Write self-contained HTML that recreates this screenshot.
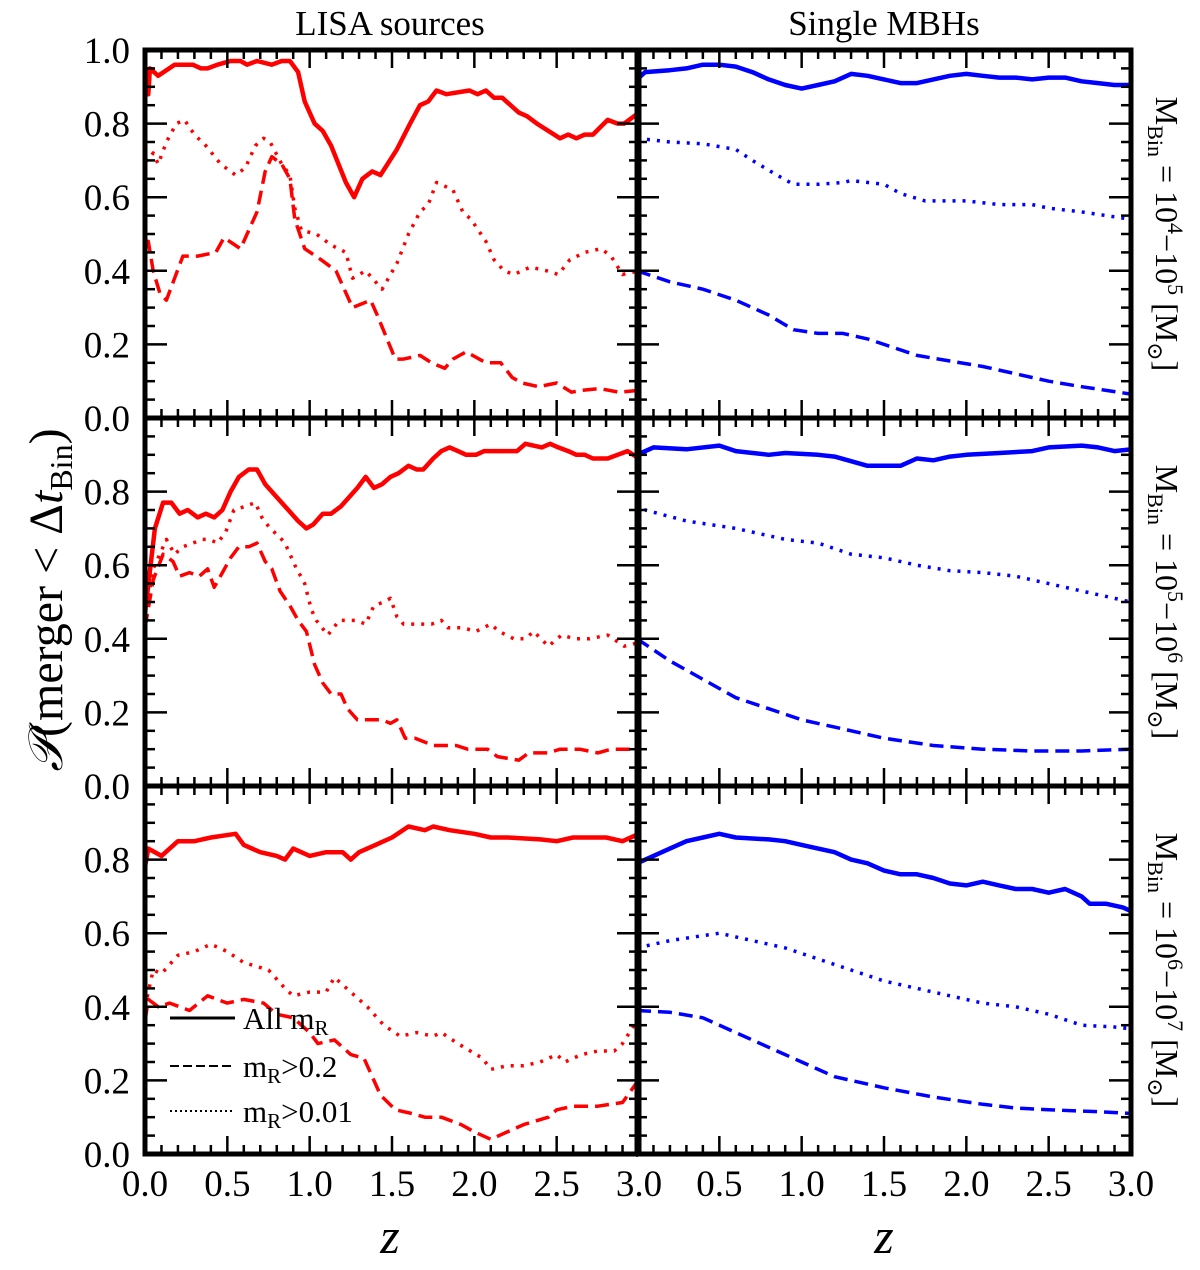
<!DOCTYPE html>
<html><head><meta charset="utf-8">
<style>
body{margin:0;background:#fff;}
svg, svg text, svg tspan{font-family:"Liberation Serif","DejaVu Serif",serif !important;}
svg text{fill:#000;}
</style></head>
<body>
<svg id="chart" width="1200" height="1265" xmlns="http://www.w3.org/2000/svg" font-family="Liberation Serif, DejaVu Serif, serif">
<g id="marks"></g>
<g id="axes"></g>
<text x="390" y="35" font-size="35" text-anchor="middle" font-family="Liberation Serif, serif">LISA sources</text>
<text x="884" y="35" font-size="35" text-anchor="middle" font-family="Liberation Serif, serif">Single MBHs</text>
<text transform="translate(62,600) rotate(-90)" font-size="48" text-anchor="middle" font-family="Liberation Serif, serif"><tspan font-style="italic">𝒫</tspan>(merger &lt; Δ<tspan font-style="italic">t</tspan><tspan font-size="32" dy="10">Bin</tspan><tspan dy="-10">)</tspan></text>
<text x="390" y="1253" font-size="50" font-style="italic" text-anchor="middle" font-family="Liberation Serif, serif">z</text>
<text x="884" y="1253" font-size="50" font-style="italic" text-anchor="middle" font-family="Liberation Serif, serif">z</text>
<text transform="translate(1156,234) rotate(90)" font-size="32" text-anchor="middle" font-family="Liberation Serif, serif">M<tspan font-size="22" dy="8">Bin</tspan><tspan dy="-8"> = 10</tspan><tspan font-size="22" dy="-12">4</tspan><tspan dy="12">−10</tspan><tspan font-size="22" dy="-12">5</tspan><tspan dy="12"> [M</tspan><tspan font-size="22" dy="8">⊙</tspan><tspan dy="-8">]</tspan></text>
<text transform="translate(1156,602) rotate(90)" font-size="32" text-anchor="middle" font-family="Liberation Serif, serif">M<tspan font-size="22" dy="8">Bin</tspan><tspan dy="-8"> = 10</tspan><tspan font-size="22" dy="-12">5</tspan><tspan dy="12">−10</tspan><tspan font-size="22" dy="-12">6</tspan><tspan dy="12"> [M</tspan><tspan font-size="22" dy="8">⊙</tspan><tspan dy="-8">]</tspan></text>
<text transform="translate(1156,970) rotate(90)" font-size="32" text-anchor="middle" font-family="Liberation Serif, serif">M<tspan font-size="22" dy="8">Bin</tspan><tspan dy="-8"> = 10</tspan><tspan font-size="22" dy="-12">6</tspan><tspan dy="12">−10</tspan><tspan font-size="22" dy="-12">7</tspan><tspan dy="12"> [M</tspan><tspan font-size="22" dy="8">⊙</tspan><tspan dy="-8">]</tspan></text>
<g>
<line x1="170" y1="1018" x2="235" y2="1018" stroke="#000" stroke-width="3"/>
<text x="243" y="1029" font-size="31" font-family="Liberation Serif, serif">All m<tspan font-size="21" dy="6">R</tspan></text>
<line x1="170" y1="1066" x2="235" y2="1066" stroke="#000" stroke-width="2" stroke-dasharray="9,4"/>
<text x="243" y="1077" font-size="31" font-family="Liberation Serif, serif">m<tspan font-size="21" dy="6">R</tspan><tspan dy="-6">&gt;0.2</tspan></text>
<line x1="170" y1="1111" x2="235" y2="1111" stroke="#000" stroke-width="2" stroke-dasharray="2,3"/>
<text x="243" y="1122" font-size="31" font-family="Liberation Serif, serif">m<tspan font-size="21" dy="6">R</tspan><tspan dy="-6">&gt;0.01</tspan></text>
</g>
</svg>
<script>
const tlSolidZ=[0,0.02,0.03,0.08,0.18,0.29,0.34,0.38,0.44,0.52,0.58,0.62,0.68,0.77,0.83,0.88,0.93,0.97,1.03,1.08,1.13,1.22,1.27,1.32,1.38,1.43,1.53,1.61,1.67,1.72,1.77,1.83,1.97,2.02,2.07,2.12,2.17,2.27,2.32,2.38,2.52,2.57,2.62,2.67,2.72,2.81,2.87,2.91,3.0];
const tlSolidV=[0.88,0.88,0.95,0.93,0.96,0.96,0.95,0.95,0.96,0.97,0.97,0.96,0.97,0.96,0.97,0.97,0.94,0.86,0.80,0.78,0.74,0.64,0.60,0.65,0.67,0.66,0.73,0.80,0.85,0.86,0.89,0.88,0.89,0.88,0.89,0.87,0.87,0.83,0.82,0.80,0.76,0.77,0.76,0.77,0.77,0.81,0.80,0.80,0.83];
const tlDotZ=[0,0.02,0.05,0.08,0.13,0.19,0.24,0.30,0.37,0.46,0.55,0.61,0.67,0.72,0.76,0.83,0.88,0.91,0.95,1.04,1.13,1.22,1.26,1.34,1.44,1.53,1.60,1.67,1.72,1.77,1.87,1.93,1.98,2.07,2.12,2.18,2.24,2.34,2.44,2.51,2.58,2.67,2.77,2.83,2.90,3.0];
const tlDotV=[0.70,0.70,0.72,0.69,0.75,0.80,0.81,0.77,0.74,0.69,0.66,0.68,0.74,0.76,0.75,0.69,0.66,0.57,0.51,0.50,0.47,0.45,0.38,0.40,0.35,0.42,0.50,0.56,0.58,0.64,0.62,0.56,0.54,0.48,0.43,0.40,0.39,0.41,0.40,0.39,0.43,0.45,0.46,0.44,0.39,0.40];
const tlDashZ=[0,0.02,0.05,0.09,0.13,0.18,0.23,0.32,0.43,0.48,0.58,0.62,0.68,0.73,0.77,0.83,0.88,0.91,0.97,1.07,1.16,1.26,1.37,1.41,1.52,1.57,1.67,1.74,1.82,1.87,1.95,2.07,2.16,2.23,2.29,2.39,2.50,2.59,2.65,2.76,2.88,3.0];
const tlDashV=[0.48,0.48,0.40,0.34,0.32,0.38,0.44,0.44,0.45,0.49,0.46,0.50,0.56,0.67,0.71,0.69,0.65,0.54,0.46,0.43,0.40,0.30,0.32,0.28,0.16,0.16,0.17,0.15,0.135,0.16,0.18,0.15,0.15,0.11,0.095,0.085,0.095,0.07,0.075,0.08,0.07,0.075];
const mlSolidZ=[0,0.06,0.11,0.16,0.21,0.26,0.32,0.37,0.42,0.47,0.52,0.57,0.63,0.68,0.73,0.81,0.87,0.93,0.98,1.02,1.08,1.13,1.19,1.23,1.29,1.34,1.39,1.44,1.49,1.54,1.60,1.65,1.69,1.75,1.80,1.85,1.90,1.95,2.01,2.06,2.11,2.16,2.26,2.31,2.41,2.46,2.51,2.57,2.62,2.67,2.72,2.81,2.87,2.93,3.0];
const mlSolidV=[0.47,0.70,0.77,0.77,0.74,0.75,0.73,0.74,0.73,0.75,0.80,0.84,0.86,0.86,0.82,0.78,0.75,0.72,0.70,0.71,0.74,0.74,0.76,0.78,0.81,0.84,0.81,0.82,0.84,0.85,0.87,0.86,0.86,0.89,0.91,0.92,0.91,0.90,0.90,0.91,0.91,0.91,0.91,0.93,0.92,0.93,0.92,0.91,0.90,0.90,0.89,0.89,0.90,0.91,0.89];
const mlDotZ=[0,0.05,0.09,0.13,0.18,0.23,0.29,0.35,0.39,0.44,0.49,0.54,0.61,0.67,0.71,0.76,0.81,0.85,0.91,0.97,1.01,1.04,1.11,1.18,1.28,1.34,1.39,1.45,1.49,1.53,1.57,1.68,1.74,1.80,1.84,1.93,2.01,2.10,2.15,2.24,2.31,2.36,2.45,2.53,2.61,2.70,2.81,2.91,3.0];
const mlDotV=[0.46,0.59,0.63,0.67,0.63,0.65,0.66,0.67,0.67,0.66,0.69,0.75,0.76,0.77,0.73,0.70,0.68,0.66,0.60,0.55,0.48,0.45,0.41,0.45,0.45,0.44,0.49,0.50,0.51,0.46,0.44,0.44,0.44,0.45,0.43,0.43,0.42,0.44,0.42,0.40,0.40,0.42,0.38,0.41,0.40,0.40,0.41,0.38,0.39];
const mlDashZ=[0,0.05,0.11,0.17,0.21,0.27,0.33,0.38,0.42,0.47,0.52,0.57,0.63,0.68,0.73,0.77,0.82,0.88,0.93,0.98,1.03,1.08,1.13,1.19,1.23,1.29,1.33,1.44,1.49,1.53,1.58,1.64,1.75,1.89,1.96,2.08,2.14,2.27,2.33,2.45,2.52,2.64,2.75,2.83,2.95,3.0];
const mlDashV=[0.43,0.56,0.63,0.61,0.57,0.58,0.57,0.59,0.54,0.58,0.62,0.65,0.65,0.66,0.61,0.59,0.53,0.49,0.45,0.42,0.33,0.28,0.25,0.25,0.21,0.18,0.18,0.18,0.17,0.18,0.13,0.13,0.11,0.11,0.10,0.10,0.08,0.07,0.09,0.09,0.10,0.10,0.09,0.10,0.10,0.09];
const blSolidZ=[0,0.02,0.1,0.2,0.3,0.4,0.55,0.6,0.7,0.8,0.85,0.9,1.0,1.1,1.2,1.25,1.3,1.4,1.5,1.6,1.7,1.75,1.85,2.0,2.1,2.2,2.4,2.5,2.6,2.8,2.9,3.0];
const blSolidV=[0.78,0.83,0.81,0.85,0.85,0.86,0.87,0.84,0.82,0.81,0.80,0.83,0.81,0.82,0.82,0.80,0.82,0.84,0.86,0.89,0.88,0.89,0.88,0.87,0.86,0.86,0.855,0.85,0.86,0.86,0.85,0.87];
const blDotZ=[0,0.05,0.1,0.2,0.3,0.4,0.5,0.6,0.75,0.85,0.9,1.0,1.1,1.15,1.25,1.35,1.45,1.55,1.65,1.75,1.8,1.9,2.05,2.1,2.2,2.3,2.4,2.5,2.55,2.65,2.75,2.85,2.9,2.97,3.0];
const blDotV=[0.40,0.50,0.49,0.54,0.55,0.57,0.55,0.52,0.50,0.45,0.43,0.44,0.44,0.48,0.44,0.40,0.35,0.32,0.33,0.32,0.33,0.30,0.26,0.23,0.24,0.24,0.25,0.27,0.25,0.27,0.28,0.28,0.30,0.35,0.37];
const blDashZ=[0,0.02,0.08,0.15,0.27,0.38,0.5,0.6,0.72,0.8,0.9,1.0,1.05,1.15,1.25,1.33,1.43,1.52,1.62,1.7,1.8,1.92,2.0,2.1,2.2,2.3,2.45,2.5,2.6,2.75,2.9,2.98,3.0];
const blDashV=[0.36,0.42,0.40,0.41,0.39,0.43,0.41,0.42,0.41,0.38,0.37,0.33,0.30,0.31,0.27,0.26,0.16,0.12,0.11,0.10,0.10,0.08,0.06,0.04,0.06,0.08,0.10,0.12,0.13,0.13,0.14,0.19,0.20];
const trSolidZ=[0,0.05,0.2,0.3,0.4,0.5,0.6,0.7,0.8,0.9,1.0,1.1,1.2,1.3,1.4,1.5,1.6,1.7,1.8,1.9,2.0,2.1,2.2,2.3,2.4,2.5,2.6,2.7,2.8,2.9,3.0];
const trSolidV=[0.92,0.94,0.945,0.95,0.96,0.96,0.955,0.94,0.92,0.905,0.895,0.905,0.915,0.935,0.93,0.92,0.91,0.91,0.92,0.93,0.935,0.93,0.925,0.925,0.92,0.925,0.925,0.915,0.91,0.905,0.905];
const trDotZ=[0,0.2,0.4,0.6,0.7,0.85,0.95,1.1,1.25,1.3,1.5,1.6,1.75,2.0,2.2,2.4,2.5,2.7,2.85,3.0];
const trDotV=[0.76,0.75,0.745,0.73,0.70,0.66,0.635,0.635,0.64,0.645,0.635,0.61,0.59,0.59,0.58,0.58,0.57,0.56,0.55,0.54];
const trDashZ=[0,0.2,0.4,0.6,0.8,0.95,1.1,1.25,1.4,1.5,1.7,1.9,2.1,2.3,2.5,2.7,2.85,3.0];
const trDashV=[0.40,0.37,0.35,0.32,0.28,0.24,0.23,0.23,0.215,0.20,0.17,0.155,0.14,0.12,0.10,0.085,0.075,0.065];
const mrSolidZ=[0,0.1,0.3,0.5,0.6,0.8,0.9,1.1,1.2,1.4,1.6,1.7,1.8,1.9,2.0,2.2,2.4,2.5,2.7,2.8,2.9,3.0];
const mrSolidV=[0.90,0.92,0.915,0.925,0.91,0.90,0.905,0.90,0.895,0.87,0.87,0.89,0.885,0.895,0.90,0.905,0.91,0.92,0.925,0.92,0.91,0.915];
const mrDotZ=[0,0.05,0.3,0.6,0.9,1.1,1.3,1.5,1.7,1.9,2.1,2.3,2.5,2.7,2.9,3.0];
const mrDotV=[0.73,0.75,0.72,0.70,0.67,0.66,0.63,0.62,0.60,0.585,0.58,0.57,0.55,0.53,0.51,0.50];
const mrDashZ=[0,0.2,0.4,0.6,0.8,1.0,1.2,1.5,1.8,2.1,2.4,2.7,3.0];
const mrDashV=[0.40,0.34,0.29,0.24,0.21,0.18,0.16,0.13,0.11,0.10,0.095,0.095,0.10];
const brSolidZ=[0,0.1,0.2,0.3,0.4,0.5,0.6,0.8,0.9,1.0,1.1,1.2,1.3,1.4,1.5,1.6,1.7,1.8,1.9,2.0,2.1,2.2,2.3,2.4,2.5,2.6,2.7,2.75,2.85,2.95,3.0];
const brSolidV=[0.79,0.81,0.83,0.85,0.86,0.87,0.86,0.855,0.85,0.84,0.83,0.82,0.80,0.79,0.77,0.76,0.76,0.75,0.735,0.73,0.74,0.73,0.72,0.72,0.71,0.72,0.70,0.68,0.68,0.67,0.66];
const brDotZ=[0,0.2,0.5,0.7,0.9,1.1,1.3,1.5,1.7,1.9,2.1,2.3,2.5,2.7,2.9,3.0];
const brDotV=[0.56,0.58,0.60,0.58,0.56,0.53,0.50,0.47,0.45,0.43,0.41,0.40,0.38,0.35,0.345,0.34];
const brDashZ=[0,0.2,0.4,0.6,0.8,1.0,1.2,1.5,1.8,2.1,2.3,2.5,2.8,3.0];
const brDashV=[0.39,0.385,0.37,0.33,0.29,0.25,0.21,0.18,0.155,0.135,0.125,0.12,0.115,0.11];
const xTickLabels=["0.0","0.5","1.0","1.5","2.0","2.5","3.0"];
const yTickLabels=["0.0","0.2","0.4","0.6","0.8","1.0"];

const NS="http://www.w3.org/2000/svg";
const COLS=[145,637], PW=494, ROWS=[50,418,786], PH=368;
function xs(col,z){return COLS[col]+z/3*PW;}
function ys(row,v){return ROWS[row]+PH-v*PH;}
const marks=document.getElementById('marks'), axes=document.getElementById('axes');
const styles={solid:{w:4.5,d:null},dash:{w:3.5,d:"14,7"},dot:{w:3.5,d:"3,7"}};
function series(col,row,Z,V,kind,color,name){
  const p=document.createElementNS(NS,'path');
  let d=Z.map((z,i)=>(i?'L':'M')+xs(col,z).toFixed(1)+','+ys(row,V[i]).toFixed(1)).join('');
  p.setAttribute('d',d);p.setAttribute('fill','none');p.setAttribute('stroke',color);
  p.setAttribute('stroke-width',styles[kind].w);p.setAttribute('stroke-linejoin','round');
  if(styles[kind].d)p.setAttribute('stroke-dasharray',styles[kind].d);
  
  
  marks.appendChild(p);
}
const R='#ff0000',B='#0000ff';
series(0,0,tlSolidZ,tlSolidV,'solid',R,'lisa-row1-all');
series(0,0,tlDotZ,tlDotV,'dot',R,'lisa-row1-mr001');
series(0,0,tlDashZ,tlDashV,'dash',R,'lisa-row1-mr02');
series(0,1,mlSolidZ,mlSolidV,'solid',R,'lisa-row2-all');
series(0,1,mlDotZ,mlDotV,'dot',R,'lisa-row2-mr001');
series(0,1,mlDashZ,mlDashV,'dash',R,'lisa-row2-mr02');
series(0,2,blSolidZ,blSolidV,'solid',R,'lisa-row3-all');
series(0,2,blDotZ,blDotV,'dot',R,'lisa-row3-mr001');
series(0,2,blDashZ,blDashV,'dash',R,'lisa-row3-mr02');
series(1,0,trSolidZ,trSolidV,'solid',B,'single-row1-all');
series(1,0,trDotZ,trDotV,'dot',B,'single-row1-mr001');
series(1,0,trDashZ,trDashV,'dash',B,'single-row1-mr02');
series(1,1,mrSolidZ,mrSolidV,'solid',B,'single-row2-all');
series(1,1,mrDotZ,mrDotV,'dot',B,'single-row2-mr001');
series(1,1,mrDashZ,mrDashV,'dash',B,'single-row2-mr02');
series(1,2,brSolidZ,brSolidV,'solid',B,'single-row3-all');
series(1,2,brDotZ,brDotV,'dot',B,'single-row3-mr001');
series(1,2,brDashZ,brDashV,'dash',B,'single-row3-mr02');

function ln(x1,y1,x2,y2,w){const l=document.createElementNS(NS,'line');
 l.setAttribute('x1',x1);l.setAttribute('y1',y1);l.setAttribute('x2',x2);l.setAttribute('y2',y2);
 l.setAttribute('stroke','#000');l.setAttribute('stroke-width',w);
 
 
 axes.appendChild(l);}
for(let c=0;c<2;c++)for(let r=0;r<3;r++){
  const x0=COLS[c],x1=COLS[c]+PW,y0=ROWS[r],y1=ROWS[r]+PH;
  for(let k=0;k<=20;k++){const v=k*0.05,y=ys(r,v),L=(k%4===0)?22:10;
    ln(x0,y,x0+L,y,2.5);ln(x1,y,x1-L,y,2.5);}
  for(let k=0;k<=30;k++){const z=k*0.1,x=xs(c,z),L=(k%5===0)?18:9;
    ln(x,y0,x,y0+L,2.5);ln(x,y1,x,y1-L,2.5);}
  const rect=document.createElementNS(NS,'rect');
  rect.setAttribute('x',x0);rect.setAttribute('y',y0);rect.setAttribute('width',PW);rect.setAttribute('height',PH);
  rect.setAttribute('fill','none');rect.setAttribute('stroke','#000');rect.setAttribute('stroke-width',5);
  
  
  axes.appendChild(rect);
}
ln(637,48,637,1157,1.5);
function txt(x,y,s,anchor,name){const t=document.createElementNS(NS,'text');
 t.setAttribute('x',x);t.setAttribute('y',y);t.setAttribute('font-size',37);t.setAttribute('text-anchor',anchor);
 t.setAttribute('font-family','Liberation Serif, DejaVu Serif, serif');t.textContent=s;
 
 
 axes.appendChild(t);}
for(let r=0;r<3;r++)yTickLabels.forEach((s,i)=>{if(r>0&&i===5)return;
  txt(130,ys(r,i*0.2)+13,s,'end','y-tick-label');});
for(let c=0;c<2;c++)xTickLabels.forEach((s,i)=>{if(c===1&&i===0)return;
  txt(xs(c,i*0.5),1196,s,'middle','x-tick-label');});
</script>
</body></html>
